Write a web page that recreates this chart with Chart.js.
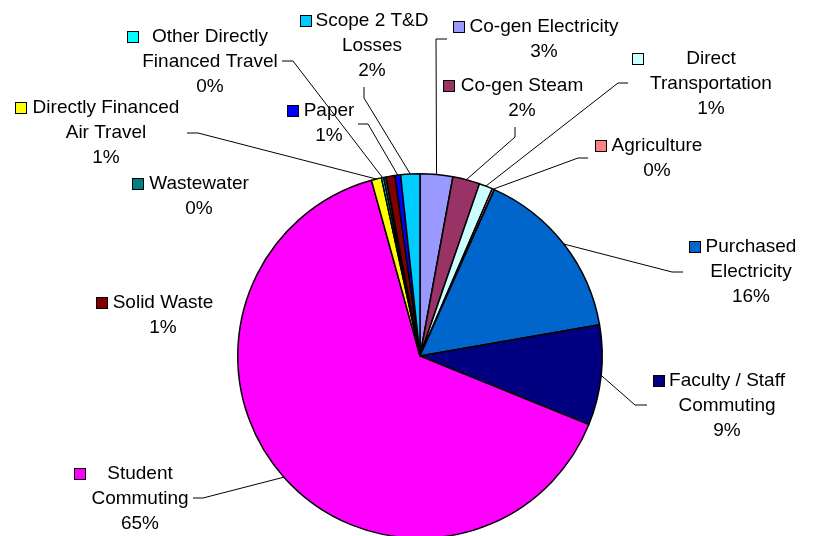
<!DOCTYPE html>
<html>
<head>
<meta charset="utf-8">
<script src="https://cdn.jsdelivr.net/npm/chart.js@4"></script>
<style>
  html, body { margin: 0; padding: 0; background: #fff; overflow: hidden; }
  #wrap { position: relative; width: 813px; height: 560px; }
</style>
</head>
<body>
<div id="wrap"><canvas id="pieChart" width="813" height="560"></canvas></div>
<script>
// slices, clockwise from 12 o'clock
const categories = [
  'Co-gen Electricity', 'Co-gen Steam', 'Direct Transportation', 'Agriculture',
  'Purchased Electricity', 'Faculty / Staff Commuting', 'Student Commuting',
  'Directly Financed Air Travel', 'Other Directly Financed Travel', 'Wastewater',
  'Solid Waste', 'Paper', 'Scope 2 T&D Losses'
];
const values = [2.9, 2.4, 1.2, 0.2, 15.6, 8.9, 64.7, 0.9, 0.2, 0.2, 0.8, 0.5, 1.7];
const pctLabels = ['3%', '2%', '1%', '0%', '16%', '9%', '65%', '1%', '0%', '0%', '1%', '1%', '2%'];

const colors = [
  '#9999FF', '#993366', '#CCFFFF', '#FF8080', '#0066CC', '#000080', '#FF00FF',
  '#FFFF00', '#00FFFF', '#008080', '#800000', '#0000FF', '#00CCFF'
];

// label placement: text centre x, first baseline, words per line, key gap, leader elbow
const labelLayout = [
  { cx: 544, y: 32,  wrap: [2],    gap: 6,  elbow: [[447, 39], [436, 39]] },
  { cx: 522, y: 91,  wrap: [2],    gap: 7,  elbow: [[515, 127], [515, 137]] },
  { cx: 711, y: 64,  wrap: [1, 1], gap: 43, elbow: [[628, 83], [618, 83]] },
  { cx: 657, y: 151, wrap: [1],    gap: 6,  elbow: [[588, 158], [578, 158]] },
  { cx: 751, y: 252, wrap: [1, 1], gap: 6,  elbow: [[683, 272], [672, 272]] },
  { cx: 727, y: 386, wrap: [3, 1], gap: 5,  elbow: [[647, 405], [635, 405]] },
  { cx: 140, y: 479, wrap: [1, 1], gap: 22, elbow: [[193, 498], [203, 498]] },
  { cx: 106, y: 113, wrap: [2, 2], gap: 7,  elbow: [[187, 133], [198, 133]] },
  { cx: 210, y: 42,  wrap: [2, 2], gap: 14, elbow: [[282, 61], [293, 61]] },
  { cx: 199, y: 189, wrap: [1],    gap: 6,  elbow: null },
  { cx: 163, y: 308, wrap: [2],    gap: 6,  elbow: null },
  { cx: 329, y: 116, wrap: [1],    gap: 6,  elbow: [[358, 124], [368, 124]] },
  { cx: 372, y: 26,  wrap: [3, 1], gap: 5,  elbow: [[364, 87], [364, 98]] }
];

const FONT = '19px "Liberation Sans", Arial, sans-serif';
const LINE_H = 25;
const KEY = 11;

function splitLines(name, wrap) {
  const words = name.split(' ');
  const lines = [];
  let i = 0;
  wrap.forEach(n => {
    lines.push(words.slice(i, i + n).join(' '));
    i += n;
  });
  return lines;
}

const pieLabels = {
  id: 'pieLabels',
  afterDraw(chart) {
    const ctx = chart.ctx;
    const arcs = chart.getDatasetMeta(0).data;
    ctx.save();
    ctx.font = FONT;
    ctx.textAlign = 'center';
    ctx.textBaseline = 'alphabetic';

    arcs.forEach((arc, i) => {
      const lay = labelLayout[i];
      const lines = splitLines(categories[i], lay.wrap);
      lines.push(pctLabels[i]);

      // leader line to the middle of the slice edge
      if (lay.elbow) {
        const p = arc.getProps(['x', 'y', 'startAngle', 'endAngle', 'outerRadius'], true);
        const mid = (p.startAngle + p.endAngle) / 2;
        const ex = p.x + Math.cos(mid) * p.outerRadius;
        const ey = p.y + Math.sin(mid) * p.outerRadius;
        ctx.beginPath();
        ctx.strokeStyle = '#000';
        ctx.lineWidth = 1;
        ctx.moveTo(lay.elbow[0][0], lay.elbow[0][1]);
        ctx.lineTo(lay.elbow[1][0], lay.elbow[1][1]);
        ctx.lineTo(ex, ey);
        ctx.stroke();
      }

      ctx.fillStyle = '#000';
      lines.forEach((t, k) => ctx.fillText(t, lay.cx, lay.y + k * LINE_H));

      // legend key before the first line
      const w1 = ctx.measureText(lines[0]).width;
      const kx = Math.round(lay.cx - w1 / 2 - lay.gap - KEY) + 0.5;
      const ky = Math.round(lay.y - KEY) + 0.5;
      ctx.fillStyle = colors[i];
      ctx.fillRect(kx, ky, KEY, KEY);
      ctx.strokeStyle = '#000';
      ctx.lineWidth = 1;
      ctx.strokeRect(kx, ky, KEY, KEY);
    });
    ctx.restore();
  }
};

new Chart(document.getElementById('pieChart').getContext('2d'), {
  type: 'pie',
  data: {
    labels: categories,
    datasets: [{
      data: values,
      backgroundColor: colors,
      borderColor: '#000',
      borderWidth: 1.5
    }]
  },
  options: {
    responsive: false,
    animation: false,
    layout: { padding: { left: 237, right: 210, top: 173, bottom: 21 } },
    plugins: {
      legend: { display: false },
      tooltip: { enabled: false }
    }
  },
  plugins: [pieLabels]
});
</script>
</body>
</html>
